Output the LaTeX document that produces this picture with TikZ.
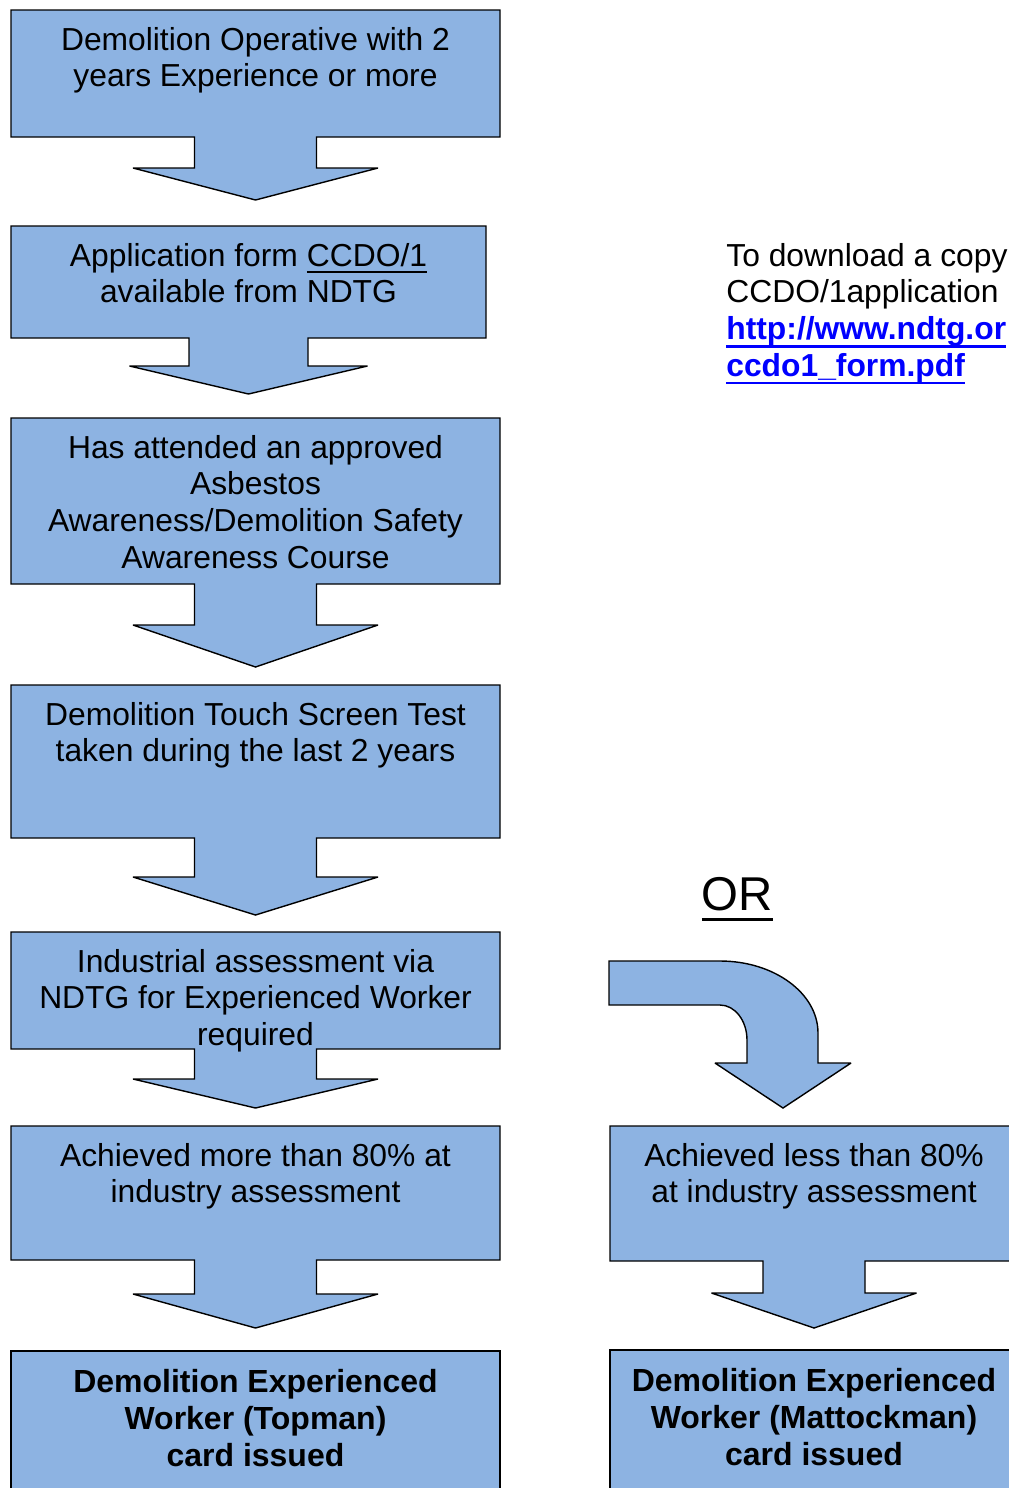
\documentclass[tikz,border=0pt]{standalone}
\usepackage{fontspec}
\setmainfont{Liberation Sans}
\usepackage{tikz}
\usetikzlibrary{calc, positioning}
\definecolor{bleuboite}{RGB}{141,179,226}
\definecolor{lien}{RGB}{0,0,255}
\tikzstyle{boite} = [rectangle, inner sep=0pt, outer sep=0pt, anchor=north west]
\tikzstyle{carte} = [boite, draw=black, fill=bleuboite, line width=0.8pt]
\tikzstyle{contour} = [draw=black, fill=bleuboite, line width=0.8pt, line join=miter, miter limit=3]
\tikzstyle{texte} = [anchor=north, align=center, inner sep=0pt, font=\fontsize{18.1}{20.8}\selectfont]
\tikzstyle{gras} = [texte, font=\fontsize{18.2}{21}\selectfont\bfseries]

%% soulignement : #1 distance sous la ligne de base, #2 epaisseur, #3 texte
\newcommand{\souligne}[3]{%
	\setbox0\hbox{#3}\rlap{\vrule width\wd0 height\dimexpr-#1\relax depth\dimexpr#1+#2\relax}\box0}

%% boite + fleche vers le bas : #1 noeud, #2 demi-tige, #3 demi-pointe, #4 tige, #5 pointe
\newcommand{\descente}[5]{%
	\filldraw[contour] (#1.north west) -- (#1.north east) -- (#1.south east)
		-- ($(#1.south)+(#2,0)$) -- ($(#1.south)+(#2,#4)$) -- ($(#1.south)+(#3,#4)$)
		-- ($(#1.south)+(0,#4+#5)$)
		-- ($(#1.south)+(-#3,#4)$) -- ($(#1.south)+(-#2,#4)$) -- ($(#1.south)+(-#2,0)$)
		-- (#1.south west) -- cycle;}

\begin{document}
\begin{tikzpicture}[x=0.2mm, y=-0.2mm]
	\useasboundingbox (0,0) rectangle (1009,1488);
	\clip (0,0) rectangle (1009,1488);

%% Les boites de gauche
	\node[boite, minimum width=97.8mm, minimum height=25.4mm] (experience) at (11,10) {};
	\node[boite, minimum width=95mm, minimum height=22.4mm] (formulaire) at (11,226) {};
	\node[boite, minimum width=97.8mm, minimum height=33.2mm] (cours) at (11,418) {};
	\node[boite, minimum width=97.8mm, minimum height=30.6mm] (test) at (11,685) {};
	\node[boite, minimum width=97.8mm, minimum height=23.4mm] (evaluation) at (11,932) {};
	\node[boite, minimum width=97.8mm, minimum height=26.8mm] (reussite) at (11,1126) {};
	\node[carte, minimum width=97.8mm, minimum height=30mm] (topman) at (11,1351) {};

	\descente{experience}{61}{122.5}{31}{32}
	\descente{formulaire}{59.5}{119}{28}{28}
	\descente{cours}{61}{122.5}{41}{42}
	\descente{test}{61}{122.5}{39}{38}
	\descente{evaluation}{61}{122.5}{30}{29}
	\descente{reussite}{61}{122.5}{34}{34}

%% Les boites de droite
	\node[boite, minimum width=81.6mm, minimum height=27mm] (echec) at (610,1126) {};
	\node[carte, minimum width=81.6mm, minimum height=30mm] (mattockman) at (610,1350) {};
	\descente{echec}{51}{102.5}{32}{35}

%% fleche courbe (OR)
	\filldraw[contour] (609,961) -- (720,961) arc[start angle=-90, end angle=0, x radius=98, y radius=72]
		-- (818,1063) -- (851,1063) -- (783,1108) -- (715,1063) -- (747,1063) -- (747,1040)
		arc[start angle=0, end angle=-90, x radius=27, y radius=35] -- (609,1005) -- cycle;

	\node[anchor=north, inner sep=0pt, font=\fontsize{27}{31}\selectfont] (ou) at (737.5,877)
		{\souligne{4pt}{1.7pt}{OR}};

%% Les textes
	\node[texte] (experience-t) at ($(experience.north)+(0,17)$) {Demolition Operative with 2\\years Experience or more};
	\node[texte] (formulaire-t) at ($(formulaire.north)+(0,17)$) {Application form \souligne{2.8pt}{1.1pt}{CCDO/1}\\available from NDTG};
	\node[texte] (cours-t) at ($(cours.north)+(0,17)$) {Has attended an approved\\Asbestos\\Awareness/Demolition Safety\\Awareness Course};
	\node[texte] (test-t) at ($(test.north)+(0,17)$) {Demolition Touch Screen Test\\taken during the last 2 years};
	\node[texte] (evaluation-t) at ($(evaluation.north)+(0,17)$) {Industrial assessment via\\NDTG for Experienced Worker\\required};
	\node[texte] (reussite-t) at ($(reussite.north)+(0,17)$) {Achieved more than 80\% at\\industry assessment};
	\node[gras] (topman-t) at ($(topman.north)+(0,18)$) {Demolition Experienced\\Worker (Topman)\\card issued};
	\node[texte] (echec-t) at ($(echec.north)+(0,17)$) {Achieved less than 80\%\\at industry assessment};
	\node[gras] (mattockman-t) at ($(mattockman.north)+(0,18)$) {Demolition Experienced\\Worker (Mattockman)\\card issued};

%% telechargement
	\node[anchor=north west, align=left, inner sep=0pt, font=\fontsize{18.1}{20.8}\selectfont] (telecharger) at (726,243)
		{To download a copy\\CCDO/1application\\
		{\color{lien}\bfseries\souligne{3.4pt}{1.2pt}{http://www.ndtg.or}}\\
		{\color{lien}\bfseries\souligne{3.4pt}{1.2pt}{ccdo1\_form.pdf}}};

\end{tikzpicture}
\end{document}
